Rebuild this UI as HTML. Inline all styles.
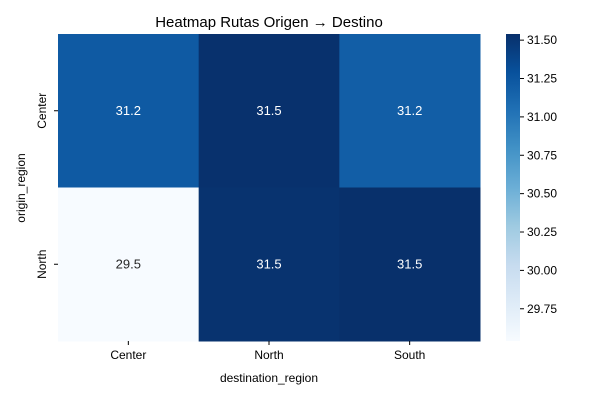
<!DOCTYPE html>
<html><head><meta charset="utf-8"><style>
body{margin:0;background:#fff;}
svg text{font-family:"Liberation Sans","DejaVu Sans",sans-serif;}
</style></head><body>
<svg id="chart" width="600" height="400" xmlns="http://www.w3.org/2000/svg">
<defs><linearGradient id="cb" x1="0" y1="1" x2="0" y2="0">
<stop offset="0" stop-color="#f7fbff"/><stop offset="0.125" stop-color="#deebf7"/><stop offset="0.25" stop-color="#c6dbef"/><stop offset="0.375" stop-color="#9ecae1"/><stop offset="0.5" stop-color="#6baed6"/><stop offset="0.625" stop-color="#4292c6"/><stop offset="0.75" stop-color="#2171b5"/><stop offset="0.875" stop-color="#08519c"/><stop offset="1" stop-color="#08306b"/>
</linearGradient></defs>
<text x="269" y="27" font-size="15" text-anchor="middle">Heatmap Rutas Origen → Destino</text>
<g id="cells"></g>
<g id="xaxis"></g><g id="yaxis"></g>
<text x="269" y="382" font-size="12" text-anchor="middle">destination_region</text>
<text transform="translate(25,188) rotate(-90)" font-size="12" text-anchor="middle">origin_region</text>
<rect x="506" y="34" width="14" height="307" fill="url(#cb)"/>
<g id="cbticks"></g>
</svg>
<script>
const xCats=["Center","North","South"];
const yCats=["Center","North"];
const row0=[31.22,31.53,31.19];
const row1=[29.54,31.52,31.54];
const cbTicks=[29.75,30.00,30.25,30.50,30.75,31.00,31.25,31.50];
const values=[row0,row1];
const NS="http://www.w3.org/2000/svg";
const all=values.flat();
const vmin=Math.min(...all), vmax=Math.max(...all);
const L=58,R=480,T=34,B=341;
const cw=(R-L)/xCats.length, ch=(B-T)/yCats.length;
const xs=i=>L+i*cw, ys=j=>T+j*ch;
const stops=["#f7fbff","#deebf7","#c6dbef","#9ecae1","#6baed6","#4292c6","#2171b5","#08519c","#08306b"].map(h=>[1,3,5].map(k=>parseInt(h.substr(k,2),16)));
function color(v){let t=(v-vmin)/(vmax-vmin);t=Math.max(0,Math.min(1,t));const p=t*8,i=Math.min(7,Math.floor(p)),f=p-i;const c=stops[i].map((a,k)=>Math.round(a+(stops[i+1][k]-a)*f));return `rgb(${c})`;}
function lum(v){return (v-vmin)/(vmax-vmin);}
function mk(tag,attrs,parent){const e=document.createElementNS(NS,tag);for(const k in attrs)e.setAttribute(k,attrs[k]);parent.appendChild(e);return e;}
const cells=document.getElementById('cells');
values.forEach((row,j)=>row.forEach((v,i)=>{
 const r=mk('rect',{x:xs(i),y:ys(j),width:cw+0.5,height:ch+0.5,fill:color(v)},cells);
 
 
 const t=mk('text',{x:xs(i)+cw/2,y:ys(j)+ch/2+4,'font-size':13,'text-anchor':'middle',fill:lum(v)>0.5?'#fff':'#262626'},cells);
 t.textContent=v.toFixed(1);
 
 
}));
const xa=document.getElementById('xaxis');
xCats.forEach((c,i)=>{const x=xs(i)+cw/2;mk('line',{x1:x,x2:x,y1:B,y2:B+4,stroke:'#000'},xa);
 const t=mk('text',{x:x,y:B+18,'font-size':12,'text-anchor':'middle'},xa);t.textContent=c;
 
 });
const ya=document.getElementById('yaxis');
yCats.forEach((c,j)=>{const y=ys(j)+ch/2;mk('line',{x1:L-4,x2:L,y1:y,y2:y,stroke:'#000'},ya);
 const t=mk('text',{transform:`translate(46,${y}) rotate(-90)`,'font-size':12,'text-anchor':'middle'},ya);t.textContent=c;
 
 });
const cb=document.getElementById('cbticks');
const cy=v=>B-(v-vmin)/(vmax-vmin)*(B-T);
cbTicks.forEach(v=>{const y=cy(v);mk('line',{x1:520,x2:524,y1:y,y2:y,stroke:'#000'},cb);
 const t=mk('text',{x:527,y:y+4,'font-size':12},cb);t.textContent=v.toFixed(2);
 
 });
</script>
</body></html>
